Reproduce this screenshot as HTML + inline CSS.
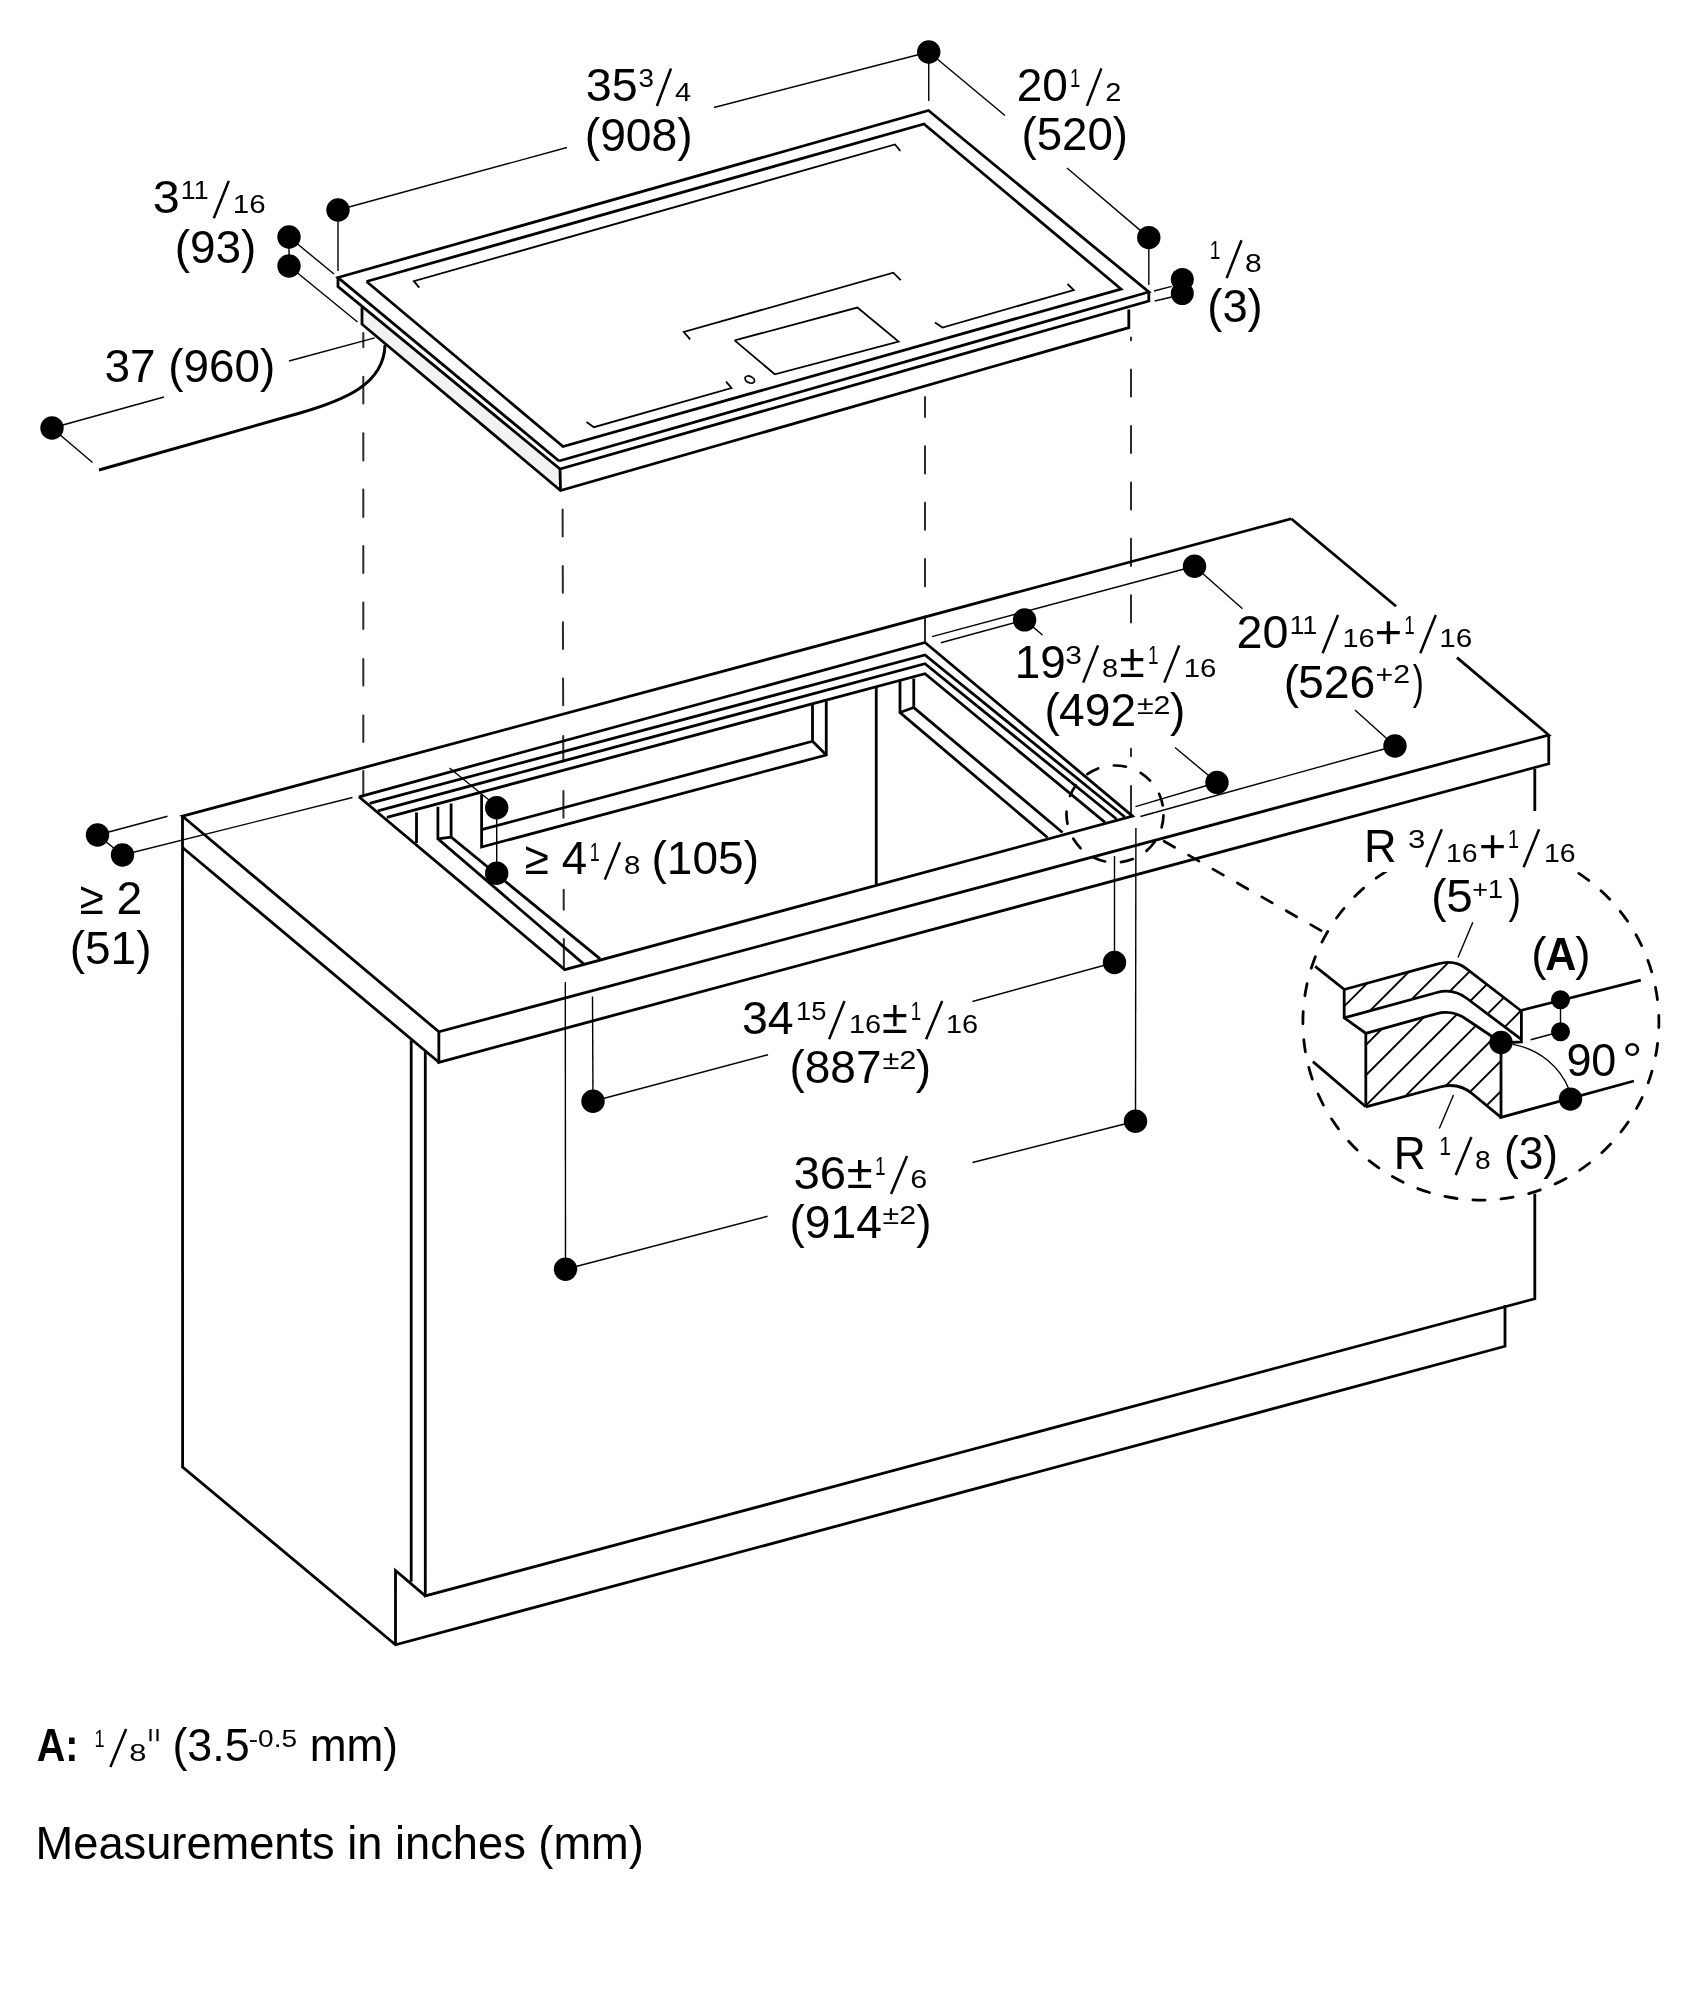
<!DOCTYPE html><html><head><meta charset="utf-8"><style>html,body{margin:0;padding:0;background:#fff;overflow:hidden} svg{display:block} text{font-family:"Liberation Sans", sans-serif;fill:#000}</style></head><body>
<svg width="1701" height="2000" viewBox="0 0 1701 2000">
<rect width="1701" height="2000" fill="#fff"/>
<line x1="363.30" y1="333" x2="363.30" y2="347.2" stroke="#2a2a2a" stroke-width="2.0" stroke-linecap="round"/>
<line x1="363.30" y1="376.8" x2="363.30" y2="403.6" stroke="#2a2a2a" stroke-width="2.0" stroke-linecap="round"/>
<line x1="363.30" y1="433.2" x2="363.30" y2="460.6" stroke="#2a2a2a" stroke-width="2.0" stroke-linecap="round"/>
<line x1="363.30" y1="489.6" x2="363.30" y2="517" stroke="#2a2a2a" stroke-width="2.0" stroke-linecap="round"/>
<line x1="363.30" y1="546" x2="363.30" y2="573" stroke="#2a2a2a" stroke-width="2.0" stroke-linecap="round"/>
<line x1="363.30" y1="602.5" x2="363.30" y2="629" stroke="#2a2a2a" stroke-width="2.0" stroke-linecap="round"/>
<line x1="363.30" y1="659" x2="363.30" y2="685.5" stroke="#2a2a2a" stroke-width="2.0" stroke-linecap="round"/>
<line x1="363.30" y1="715.5" x2="363.30" y2="742" stroke="#2a2a2a" stroke-width="2.0" stroke-linecap="round"/>
<line x1="363.30" y1="771" x2="363.30" y2="796.5" stroke="#2a2a2a" stroke-width="2.0" stroke-linecap="round"/>
<line x1="562.60" y1="509.4" x2="562.68" y2="536.6" stroke="#2a2a2a" stroke-width="2.0" stroke-linecap="round"/>
<line x1="562.76" y1="566" x2="562.84" y2="592.8" stroke="#2a2a2a" stroke-width="2.0" stroke-linecap="round"/>
<line x1="562.92" y1="622.2" x2="563.00" y2="649" stroke="#2a2a2a" stroke-width="2.0" stroke-linecap="round"/>
<line x1="563.08" y1="678.5" x2="563.16" y2="705.3" stroke="#2a2a2a" stroke-width="2.0" stroke-linecap="round"/>
<line x1="563.24" y1="736" x2="563.32" y2="761.5" stroke="#2a2a2a" stroke-width="2.0" stroke-linecap="round"/>
<line x1="563.39" y1="791" x2="563.48" y2="817.8" stroke="#2a2a2a" stroke-width="2.0" stroke-linecap="round"/>
<line x1="563.67" y1="889.8" x2="563.74" y2="909.7" stroke="#2a2a2a" stroke-width="2.0" stroke-linecap="round"/>
<line x1="563.81" y1="939" x2="563.90" y2="968" stroke="#2a2a2a" stroke-width="2.0" stroke-linecap="round"/>
<line x1="925.00" y1="396.9" x2="925.00" y2="416.9" stroke="#2a2a2a" stroke-width="2.0" stroke-linecap="round"/>
<line x1="925.00" y1="446.3" x2="925.00" y2="473.4" stroke="#2a2a2a" stroke-width="2.0" stroke-linecap="round"/>
<line x1="925.00" y1="502.7" x2="925.00" y2="529.8" stroke="#2a2a2a" stroke-width="2.0" stroke-linecap="round"/>
<line x1="925.00" y1="559.1" x2="925.00" y2="586.2" stroke="#2a2a2a" stroke-width="2.0" stroke-linecap="round"/>
<line x1="925.00" y1="616.4" x2="925.00" y2="641" stroke="#2a2a2a" stroke-width="2.0" stroke-linecap="round"/>
<line x1="1131.00" y1="337.5" x2="1131.00" y2="340.2" stroke="#2a2a2a" stroke-width="2.0" stroke-linecap="round"/>
<line x1="1131.00" y1="369.6" x2="1131.00" y2="396.6" stroke="#2a2a2a" stroke-width="2.0" stroke-linecap="round"/>
<line x1="1131.00" y1="426" x2="1131.00" y2="453" stroke="#2a2a2a" stroke-width="2.0" stroke-linecap="round"/>
<line x1="1131.00" y1="482.4" x2="1131.00" y2="509.5" stroke="#2a2a2a" stroke-width="2.0" stroke-linecap="round"/>
<line x1="1131.00" y1="538.8" x2="1131.00" y2="566" stroke="#2a2a2a" stroke-width="2.0" stroke-linecap="round"/>
<line x1="1131.00" y1="595.3" x2="1131.00" y2="622.4" stroke="#2a2a2a" stroke-width="2.0" stroke-linecap="round"/>
<line x1="1131.00" y1="748.8" x2="1131.00" y2="756.3" stroke="#2a2a2a" stroke-width="2.0" stroke-linecap="round"/>
<line x1="1131.00" y1="785.9" x2="1131.00" y2="815.1" stroke="#2a2a2a" stroke-width="2.0" stroke-linecap="round"/>
<path d="M565.30,982.00 L565.50,1269.25" fill="none" stroke="#000" stroke-width="1.4" stroke-linejoin="miter" stroke-miterlimit="10" />
<path d="M338,286.5 L560,469 L560.5,490.5 L362,324.2 L362,307.5 Z" fill="#f2f2f2" stroke="none"/>
<path d="M559.00,461.00 L338.00,277.50 L928.50,110.50 L1148.80,292.00 L559.00,461.00" fill="none" stroke="#000" stroke-width="2.8" stroke-linejoin="miter" stroke-miterlimit="10" />
<path d="M338.00,277.50 L338.00,286.50 L560.00,469.00 L1148.80,301.00 L1148.80,292.00" fill="none" stroke="#000" stroke-width="2.8" stroke-linejoin="miter" stroke-miterlimit="10" />
<path d="M362.00,307.50 L362.00,324.20 L560.50,490.50 L1128.80,327.60 L1128.80,309.40" fill="none" stroke="#000" stroke-width="2.8" stroke-linejoin="miter" stroke-miterlimit="10" />
<path d="M560.00,469.00 L560.50,490.50" fill="none" stroke="#000" stroke-width="2.8" stroke-linejoin="miter" stroke-miterlimit="10" />
<path d="M366.50,281.50 L924.00,124.00 L1121.00,289.00 L563.00,446.50 L366.50,281.50" fill="none" stroke="#000" stroke-width="2.8" stroke-linejoin="miter" stroke-miterlimit="10" />
<path d="M419.30,287.70 L413.80,281.20 L895.00,144.50 L900.40,151.00" fill="none" stroke="#000" stroke-width="1.8" stroke-linejoin="miter" stroke-miterlimit="10" />
<path d="M690.20,339.40 L683.80,332.00 L893.30,272.70 L900.70,280.10" fill="none" stroke="#000" stroke-width="1.8" stroke-linejoin="miter" stroke-miterlimit="10" />
<path d="M586.50,421.90 L593.90,427.20 L731.40,388.00 L726.10,381.70" fill="none" stroke="#000" stroke-width="1.8" stroke-linejoin="miter" stroke-miterlimit="10" />
<path d="M935.00,322.50 L942.50,327.50 L1073.75,290.00 L1067.50,284.00" fill="none" stroke="#000" stroke-width="1.8" stroke-linejoin="miter" stroke-miterlimit="10" />
<path d="M734.60,340.40 L857.40,307.60 L898.60,341.50 L774.80,374.30 L734.60,340.40" fill="none" stroke="#000" stroke-width="1.8" stroke-linejoin="miter" stroke-miterlimit="10" />
<ellipse cx="749.8" cy="379.6" rx="5" ry="3.2" transform="rotate(25 749.8 379.6)" fill="none" stroke="#000" stroke-width="1.8"/>
<path d="M99,470 L300,413 C345,400 384,384 385,345" fill="none" stroke="#000" stroke-width="3.0" />
<circle cx="338.00" cy="210.00" r="11.7" fill="#000"/>
<path d="M338.00,210.00 L338.00,271.00" fill="none" stroke="#000" stroke-width="1.4" stroke-linejoin="miter" stroke-miterlimit="10" />
<path d="M338.00,210.00 L567.00,147.50" fill="none" stroke="#000" stroke-width="1.4" stroke-linejoin="miter" stroke-miterlimit="10" />
<path d="M714.00,107.50 L928.75,52.00" fill="none" stroke="#000" stroke-width="1.4" stroke-linejoin="miter" stroke-miterlimit="10" />
<circle cx="928.75" cy="52.00" r="11.7" fill="#000"/>
<path d="M928.75,52.00 L928.75,101.00" fill="none" stroke="#000" stroke-width="1.4" stroke-linejoin="miter" stroke-miterlimit="10" />
<path d="M928.75,52.00 L1005.00,115.50" fill="none" stroke="#000" stroke-width="1.4" stroke-linejoin="miter" stroke-miterlimit="10" />
<path d="M1067.00,168.00 L1148.80,237.60" fill="none" stroke="#000" stroke-width="1.4" stroke-linejoin="miter" stroke-miterlimit="10" />
<circle cx="1148.80" cy="237.60" r="11.7" fill="#000"/>
<path d="M1148.80,237.60 L1148.80,285.00" fill="none" stroke="#000" stroke-width="1.4" stroke-linejoin="miter" stroke-miterlimit="10" />
<circle cx="289.00" cy="237.00" r="11.7" fill="#000"/>
<circle cx="289.00" cy="266.00" r="11.7" fill="#000"/>
<path d="M289.00,237.00 L289.00,266.00" fill="none" stroke="#000" stroke-width="1.4" stroke-linejoin="miter" stroke-miterlimit="10" />
<path d="M289.00,237.00 L334.00,274.00" fill="none" stroke="#000" stroke-width="1.4" stroke-linejoin="miter" stroke-miterlimit="10" />
<path d="M289.00,266.00 L357.50,322.00" fill="none" stroke="#000" stroke-width="1.4" stroke-linejoin="miter" stroke-miterlimit="10" />
<circle cx="52.00" cy="428.00" r="11.7" fill="#000"/>
<path d="M52.00,428.00 L164.00,397.00" fill="none" stroke="#000" stroke-width="1.4" stroke-linejoin="miter" stroke-miterlimit="10" />
<path d="M289.00,361.00 L374.70,337.90" fill="none" stroke="#000" stroke-width="1.4" stroke-linejoin="miter" stroke-miterlimit="10" />
<path d="M52.00,428.00 L92.50,462.50" fill="none" stroke="#000" stroke-width="1.4" stroke-linejoin="miter" stroke-miterlimit="10" />
<circle cx="1182.30" cy="279.40" r="11.5" fill="#000"/>
<circle cx="1182.30" cy="293.50" r="11.5" fill="#000"/>
<path d="M1154.00,291.00 L1171.70,286.40" fill="none" stroke="#000" stroke-width="1.4" stroke-linejoin="miter" stroke-miterlimit="10" />
<path d="M1154.70,301.00 L1171.70,297.00" fill="none" stroke="#000" stroke-width="1.4" stroke-linejoin="miter" stroke-miterlimit="10" />
<path d="M1291.25,518.75 L182.50,816.25 L438.85,1031.80 L1548.75,735.00 L1457.00,657.60" fill="none" stroke="#000" stroke-width="2.8" stroke-linejoin="miter" stroke-miterlimit="10" />
<path d="M1396.00,606.20 L1291.25,518.75" fill="none" stroke="#000" stroke-width="2.8" stroke-linejoin="miter" stroke-miterlimit="10" />
<path d="M1548.75,735.00 L1548.75,763.75 L438.85,1062.30 L438.85,1031.80" fill="none" stroke="#000" stroke-width="2.8" stroke-linejoin="miter" stroke-miterlimit="10" />
<path d="M182.50,847.50 L438.85,1062.30" fill="none" stroke="#000" stroke-width="2.8" stroke-linejoin="miter" stroke-miterlimit="10" />
<path d="M358.90,796.80 L925.00,642.50 L1132.60,816.10 L564.70,969.60 L358.90,796.80" fill="none" stroke="#000" stroke-width="2.8" stroke-linejoin="miter" stroke-miterlimit="10" />
<path d="M369.60,803.40 L925.00,655.00 L1124.80,817.00" fill="none" stroke="#000" stroke-width="2.8" stroke-linejoin="miter" stroke-miterlimit="10" />
<path d="M377.90,810.80 L925.00,663.75 L1116.50,819.00" fill="none" stroke="#000" stroke-width="2.8" stroke-linejoin="miter" stroke-miterlimit="10" />
<path d="M386.90,817.40 L925.00,673.75 L1105.00,822.30" fill="none" stroke="#000" stroke-width="2.8" stroke-linejoin="miter" stroke-miterlimit="10" />
<path d="M416.50,812.40 L416.50,843.00" fill="none" stroke="#000" stroke-width="2.8" stroke-linejoin="miter" stroke-miterlimit="10" />
<path d="M437.90,806.70 L437.90,838.80 L583.60,963.90" fill="none" stroke="#000" stroke-width="2.8" stroke-linejoin="miter" stroke-miterlimit="10" />
<path d="M451.10,803.40 L451.10,837.10 L600.10,958.90" fill="none" stroke="#000" stroke-width="2.8" stroke-linejoin="miter" stroke-miterlimit="10" />
<path d="M437.90,838.80 L451.10,837.10" fill="none" stroke="#000" stroke-width="2.8" stroke-linejoin="miter" stroke-miterlimit="10" />
<path d="M481.60,794.30 L481.60,847.00 L826.25,755.00 L826.25,700.50" fill="none" stroke="#000" stroke-width="2.8" stroke-linejoin="miter" stroke-miterlimit="10" />
<path d="M481.60,829.70 L812.50,741.25 L812.50,704.00" fill="none" stroke="#000" stroke-width="2.8" stroke-linejoin="miter" stroke-miterlimit="10" />
<path d="M812.50,741.25 L826.25,755.00" fill="none" stroke="#000" stroke-width="2.8" stroke-linejoin="miter" stroke-miterlimit="10" />
<path d="M900.00,681.00 L900.00,712.50 L1047.50,837.50" fill="none" stroke="#000" stroke-width="2.8" stroke-linejoin="miter" stroke-miterlimit="10" />
<path d="M913.75,678.50 L913.75,707.50 L1062.50,832.50" fill="none" stroke="#000" stroke-width="2.8" stroke-linejoin="miter" stroke-miterlimit="10" />
<path d="M900.00,712.50 L913.75,707.50" fill="none" stroke="#000" stroke-width="2.8" stroke-linejoin="miter" stroke-miterlimit="10" />
<path d="M876.25,687.00 L876.25,884.00" fill="none" stroke="#000" stroke-width="2.8" stroke-linejoin="miter" stroke-miterlimit="10" />
<path d="M182.50,816.25 L182.60,1467.00 L395.50,1644.80 L1505.00,1346.25 L1505.00,1305.00" fill="none" stroke="#000" stroke-width="2.8" stroke-linejoin="miter" stroke-miterlimit="10" />
<path d="M395.50,1644.80 L395.50,1570.50 L425.30,1595.90" fill="none" stroke="#000" stroke-width="2.8" stroke-linejoin="miter" stroke-miterlimit="10" />
<path d="M411.20,1040.20 L411.20,1581.80" fill="none" stroke="#000" stroke-width="2.8" stroke-linejoin="miter" stroke-miterlimit="10" />
<path d="M425.30,1051.70 L425.30,1595.90 L1534.80,1298.75 L1534.80,1193.75" fill="none" stroke="#000" stroke-width="2.8" stroke-linejoin="miter" stroke-miterlimit="10" />
<path d="M1534.80,769.00 L1534.80,811.00" fill="none" stroke="#000" stroke-width="2.8" stroke-linejoin="miter" stroke-miterlimit="10" />
<circle cx="97.50" cy="835.00" r="11.7" fill="#000"/>
<circle cx="122.50" cy="855.00" r="11.7" fill="#000"/>
<path d="M97.50,835.00 L122.50,855.00" fill="none" stroke="#000" stroke-width="1.4" stroke-linejoin="miter" stroke-miterlimit="10" />
<path d="M97.50,835.00 L167.50,816.25" fill="none" stroke="#000" stroke-width="1.4" stroke-linejoin="miter" stroke-miterlimit="10" />
<path d="M122.50,855.00 L352.50,797.50" fill="none" stroke="#000" stroke-width="1.4" stroke-linejoin="miter" stroke-miterlimit="10" />
<circle cx="496.70" cy="807.80" r="11.7" fill="#000"/>
<circle cx="496.70" cy="873.30" r="11.7" fill="#000"/>
<path d="M496.70,807.80 L496.70,873.30" fill="none" stroke="#000" stroke-width="1.4" stroke-linejoin="miter" stroke-miterlimit="10" />
<path d="M449.50,768.00 L489.00,800.00" fill="none" stroke="#000" stroke-width="1.4" stroke-linejoin="miter" stroke-miterlimit="10" />
<circle cx="1024.60" cy="619.90" r="11.7" fill="#000"/>
<circle cx="1194.50" cy="566.25" r="11.7" fill="#000"/>
<circle cx="1217.00" cy="782.50" r="11.7" fill="#000"/>
<circle cx="1395.00" cy="746.00" r="11.7" fill="#000"/>
<path d="M932.00,636.60 L1194.50,566.25" fill="none" stroke="#000" stroke-width="1.4" stroke-linejoin="miter" stroke-miterlimit="10" />
<path d="M940.80,642.80 L1024.60,619.90" fill="none" stroke="#000" stroke-width="1.4" stroke-linejoin="miter" stroke-miterlimit="10" />
<path d="M1024.60,619.90 L1042.50,635.00" fill="none" stroke="#000" stroke-width="1.4" stroke-linejoin="miter" stroke-miterlimit="10" />
<path d="M1194.50,566.25 L1242.50,608.75" fill="none" stroke="#000" stroke-width="1.4" stroke-linejoin="miter" stroke-miterlimit="10" />
<path d="M1175.00,747.50 L1217.00,782.50" fill="none" stroke="#000" stroke-width="1.4" stroke-linejoin="miter" stroke-miterlimit="10" />
<path d="M1217.00,782.50 L1135.50,806.70" fill="none" stroke="#000" stroke-width="1.4" stroke-linejoin="miter" stroke-miterlimit="10" />
<path d="M1140.40,816.50 L1395.00,746.00" fill="none" stroke="#000" stroke-width="1.4" stroke-linejoin="miter" stroke-miterlimit="10" />
<path d="M1355.00,710.00 L1395.00,746.00" fill="none" stroke="#000" stroke-width="1.4" stroke-linejoin="miter" stroke-miterlimit="10" />
<circle cx="1114.50" cy="962.50" r="11.7" fill="#000"/>
<path d="M1114.50,856.00 L1114.50,962.50" fill="none" stroke="#000" stroke-width="1.4" stroke-linejoin="miter" stroke-miterlimit="10" />
<path d="M1114.50,962.50 L972.50,1001.50" fill="none" stroke="#000" stroke-width="1.4" stroke-linejoin="miter" stroke-miterlimit="10" />
<circle cx="1135.50" cy="1121.25" r="11.7" fill="#000"/>
<path d="M1135.90,828.00 L1135.50,1121.25" fill="none" stroke="#000" stroke-width="1.4" stroke-linejoin="miter" stroke-miterlimit="10" />
<path d="M1135.50,1121.25 L972.50,1162.50" fill="none" stroke="#000" stroke-width="1.4" stroke-linejoin="miter" stroke-miterlimit="10" />
<circle cx="593.00" cy="1101.25" r="11.7" fill="#000"/>
<path d="M592.50,996.60 L593.00,1101.25" fill="none" stroke="#000" stroke-width="1.4" stroke-linejoin="miter" stroke-miterlimit="10" />
<path d="M593.00,1101.25 L768.00,1054.70" fill="none" stroke="#000" stroke-width="1.4" stroke-linejoin="miter" stroke-miterlimit="10" />
<circle cx="565.50" cy="1269.25" r="11.7" fill="#000"/>
<path d="M565.50,1269.25 L767.50,1216.25" fill="none" stroke="#000" stroke-width="1.4" stroke-linejoin="miter" stroke-miterlimit="10" />
<circle cx="1115" cy="814" r="48.5" fill="none" stroke="#000" stroke-width="2.7" stroke-linecap="round" stroke-dasharray="12.2 16" stroke-dashoffset="-1.4"/>
<line x1="1164.07" y1="841.27" x2="1174.59" y2="847.25" stroke="#000" stroke-width="2.7" stroke-linecap="round"/>
<line x1="1188.49" y1="855.17" x2="1199.01" y2="861.15" stroke="#000" stroke-width="2.7" stroke-linecap="round"/>
<line x1="1212.92" y1="869.07" x2="1223.43" y2="875.05" stroke="#000" stroke-width="2.7" stroke-linecap="round"/>
<line x1="1237.34" y1="882.97" x2="1247.85" y2="888.96" stroke="#000" stroke-width="2.7" stroke-linecap="round"/>
<line x1="1261.76" y1="896.87" x2="1272.27" y2="902.86" stroke="#000" stroke-width="2.7" stroke-linecap="round"/>
<line x1="1286.18" y1="910.77" x2="1296.69" y2="916.76" stroke="#000" stroke-width="2.7" stroke-linecap="round"/>
<line x1="1310.60" y1="924.67" x2="1321.11" y2="930.66" stroke="#000" stroke-width="2.7" stroke-linecap="round"/>
<path d="M1480.9,844.1 A178,178 0 0 1 1480.9,1200.1 A178,178 0 0 1 1480.9,844.1" fill="none" stroke="#000" stroke-width="2.8" stroke-linecap="round" stroke-dasharray="12.2 16" stroke-dashoffset="9.2"/>
<defs><clipPath id="ca"><path d="M1344.2,989.5 L1438,963.9 Q1454.4,959.4 1466,968.4 L1521.4,1010.5 L1521.4,1042 L1520.7,1038.9 L1467,998.5 Q1453.2,988.1 1437,992.5 L1344.2,1017.9 Z"/></clipPath><clipPath id="cb"><path d="M1365.8,1033.3 L1436,1013.8 Q1452.3,1009.3 1466,1019 L1501,1042.5 L1501,1117.3 L1472,1093.5 Q1458,1082 1440,1087 L1365.8,1106.8 Z"/></clipPath></defs>
<g clip-path="url(#ca)"><line x1="1200.5" y1="1150" x2="1410.5" y2="940" stroke="#000" stroke-width="1.9"/><line x1="1230.6999999999998" y1="1150" x2="1440.6999999999998" y2="940" stroke="#000" stroke-width="1.9"/><line x1="1260.9" y1="1150" x2="1470.9" y2="940" stroke="#000" stroke-width="1.9"/><line x1="1291.1" y1="1150" x2="1501.1" y2="940" stroke="#000" stroke-width="1.9"/><line x1="1321.3000000000002" y1="1150" x2="1531.3000000000002" y2="940" stroke="#000" stroke-width="1.9"/><line x1="1351.5" y1="1150" x2="1561.5" y2="940" stroke="#000" stroke-width="1.9"/><line x1="1381.6999999999998" y1="1150" x2="1591.6999999999998" y2="940" stroke="#000" stroke-width="1.9"/><line x1="1411.9" y1="1150" x2="1621.9" y2="940" stroke="#000" stroke-width="1.9"/><line x1="1442.1" y1="1150" x2="1652.1" y2="940" stroke="#000" stroke-width="1.9"/><line x1="1472.3000000000002" y1="1150" x2="1682.3000000000002" y2="940" stroke="#000" stroke-width="1.9"/></g>
<g clip-path="url(#cb)"><line x1="1200.5" y1="1150" x2="1410.5" y2="940" stroke="#000" stroke-width="1.9"/><line x1="1230.6999999999998" y1="1150" x2="1440.6999999999998" y2="940" stroke="#000" stroke-width="1.9"/><line x1="1260.9" y1="1150" x2="1470.9" y2="940" stroke="#000" stroke-width="1.9"/><line x1="1291.1" y1="1150" x2="1501.1" y2="940" stroke="#000" stroke-width="1.9"/><line x1="1321.3000000000002" y1="1150" x2="1531.3000000000002" y2="940" stroke="#000" stroke-width="1.9"/><line x1="1351.5" y1="1150" x2="1561.5" y2="940" stroke="#000" stroke-width="1.9"/><line x1="1381.6999999999998" y1="1150" x2="1591.6999999999998" y2="940" stroke="#000" stroke-width="1.9"/><line x1="1411.9" y1="1150" x2="1621.9" y2="940" stroke="#000" stroke-width="1.9"/><line x1="1442.1" y1="1150" x2="1652.1" y2="940" stroke="#000" stroke-width="1.9"/><line x1="1472.3000000000002" y1="1150" x2="1682.3000000000002" y2="940" stroke="#000" stroke-width="1.9"/></g>
<path d="M1344.2,989.5 L1438,963.9 Q1454.4,959.4 1466,968.4 L1520.7,1010.5" fill="none" stroke="#000" stroke-width="2.8" />
<path d="M1344.2,1017.9 L1437,992.5 Q1453.2,988.1 1467,998.5 L1520.7,1038.9" fill="none" stroke="#000" stroke-width="2.8" />
<path d="M1365.8,1033.3 L1436,1013.8 Q1452.3,1009.3 1466,1019 L1501,1042.5" fill="none" stroke="#000" stroke-width="2.8" />
<path d="M1365.8,1106.8 L1440,1087 Q1458,1082 1472,1093.5 L1501,1117.3" fill="none" stroke="#000" stroke-width="2.8" />
<path d="M1315.20,966.40 L1344.20,989.50 L1344.20,1017.90 L1365.80,1033.30 L1365.80,1106.80" fill="none" stroke="#000" stroke-width="2.8" stroke-linejoin="miter" stroke-miterlimit="10" />
<path d="M1312.90,1061.60 L1365.80,1106.80" fill="none" stroke="#000" stroke-width="2.8" stroke-linejoin="miter" stroke-miterlimit="10" />
<path d="M1521.40,1010.50 L1521.40,1042.00 L1501.00,1043.00" fill="none" stroke="#000" stroke-width="2.8" stroke-linejoin="miter" stroke-miterlimit="10" />
<path d="M1520.70,1010.50 L1640.80,980.20" fill="none" stroke="#000" stroke-width="2.8" stroke-linejoin="miter" stroke-miterlimit="10" />
<path d="M1501.00,1042.00 L1501.00,1117.30 L1633.90,1081.00" fill="none" stroke="#000" stroke-width="2.8" stroke-linejoin="miter" stroke-miterlimit="10" />
<path d="M1512.7,1044.4 A74,74 0 0 1 1569.3,1090" fill="none" stroke="#000" stroke-width="1.4"/>
<circle cx="1501.00" cy="1042.50" r="11.7" fill="#000"/>
<circle cx="1570.50" cy="1099.10" r="11.7" fill="#000"/>
<circle cx="1560.50" cy="999.70" r="9.5" fill="#000"/>
<circle cx="1560.50" cy="1031.80" r="9.5" fill="#000"/>
<path d="M1560.50,999.70 L1560.50,1031.80" fill="none" stroke="#000" stroke-width="1.4" stroke-linejoin="miter" stroke-miterlimit="10" />
<path d="M1530.70,1039.80 L1560.50,1031.80" fill="none" stroke="#000" stroke-width="1.4" stroke-linejoin="miter" stroke-miterlimit="10" />
<path d="M1472.80,922.30 L1458.00,957.60" fill="none" stroke="#000" stroke-width="1.4" stroke-linejoin="miter" stroke-miterlimit="10" />
<path d="M1453.50,1095.00 L1439.30,1128.40" fill="none" stroke="#000" stroke-width="1.4" stroke-linejoin="miter" stroke-miterlimit="10" />
<rect x="1362" y="824" width="220" height="48" fill="#fff"/>
<g style="will-change:transform">
<text x="585.83" y="101.2" font-size="46" textLength="51.83" lengthAdjust="spacingAndGlyphs">35</text>
<text x="638.64" y="87.2" font-size="26" textLength="15.48" lengthAdjust="spacingAndGlyphs">3</text>
<line x1="656.9" y1="106" x2="671" y2="68.5" stroke="#000" stroke-width="2.5"/>
<text x="675.14" y="100.7" font-size="26" textLength="16.11" lengthAdjust="spacingAndGlyphs">4</text>
<text x="584.73" y="150.5" font-size="46" textLength="108.04" lengthAdjust="spacingAndGlyphs">(908)</text>
<text x="1016.68" y="100.6" font-size="46" textLength="51.21" lengthAdjust="spacingAndGlyphs">20</text>
<text x="1069.99" y="86.9" font-size="26" textLength="10.32" lengthAdjust="spacingAndGlyphs">1</text>
<line x1="1086.9" y1="105.9" x2="1101.4" y2="68.4" stroke="#000" stroke-width="2.5"/>
<text x="1105.24" y="100.6" font-size="26" textLength="16.11" lengthAdjust="spacingAndGlyphs">2</text>
<text x="1021.47" y="150" font-size="46" textLength="106.56" lengthAdjust="spacingAndGlyphs">(520)</text>
<text x="152.75" y="213.3" font-size="46" textLength="26.98" lengthAdjust="spacingAndGlyphs">3</text>
<text x="180.89" y="199.1" font-size="26" textLength="27.83" lengthAdjust="spacingAndGlyphs">11</text>
<line x1="213.8" y1="218.3" x2="228.8" y2="180.9" stroke="#000" stroke-width="2.5"/>
<text x="232.85" y="213.1" font-size="26" textLength="32.85" lengthAdjust="spacingAndGlyphs">16</text>
<text x="174.75" y="262.7" font-size="46" textLength="81.59" lengthAdjust="spacingAndGlyphs">(93)</text>
<text x="104.55" y="381.8" font-size="46" textLength="170.79" lengthAdjust="spacingAndGlyphs">37 (960)</text>
<text x="1209.73" y="258.9" font-size="26" textLength="10.71" lengthAdjust="spacingAndGlyphs">1</text>
<line x1="1226.6" y1="278.1" x2="1241.5" y2="240.2" stroke="#000" stroke-width="2.5"/>
<text x="1245.09" y="272.3" font-size="26" textLength="16.71" lengthAdjust="spacingAndGlyphs">8</text>
<text x="1207.29" y="322" font-size="46" textLength="55.42" lengthAdjust="spacingAndGlyphs">(3)</text>
<text x="1236.45" y="647.7" font-size="46" textLength="51.98" lengthAdjust="spacingAndGlyphs">20</text>
<text x="1289.83" y="634" font-size="26" textLength="27.38" lengthAdjust="spacingAndGlyphs">11</text>
<line x1="1322.6" y1="653.2" x2="1338" y2="615" stroke="#000" stroke-width="2.5"/>
<text x="1342.40" y="647.3" font-size="26" textLength="32.17" lengthAdjust="spacingAndGlyphs">16</text>
<text x="1374.71" y="647.5" font-size="46" textLength="27.41" lengthAdjust="spacingAndGlyphs">+</text>
<text x="1404.17" y="634" font-size="26" textLength="10.45" lengthAdjust="spacingAndGlyphs">1</text>
<line x1="1420.3" y1="653.2" x2="1435.8" y2="615" stroke="#000" stroke-width="2.5"/>
<text x="1439.34" y="647.3" font-size="26" textLength="32.96" lengthAdjust="spacingAndGlyphs">16</text>
<text x="1283.75" y="697.7" font-size="46">(</text>
<text x="1297.94" y="697.7" font-size="46" textLength="77.40" lengthAdjust="spacingAndGlyphs">526</text>
<text x="1375.52" y="683.3" font-size="26" textLength="34.61" lengthAdjust="spacingAndGlyphs">+2</text>
<text x="1412.81" y="697.7" font-size="46" textLength="11.05" lengthAdjust="spacingAndGlyphs">)</text>
<text x="1014.81" y="677.5" font-size="46" textLength="50.96" lengthAdjust="spacingAndGlyphs">19</text>
<text x="1065.16" y="663.5" font-size="26" textLength="16.66" lengthAdjust="spacingAndGlyphs">3</text>
<line x1="1083.2" y1="682.6" x2="1098" y2="645.4" stroke="#000" stroke-width="2.5"/>
<text x="1102.14" y="677.2" font-size="26" textLength="16.12" lengthAdjust="spacingAndGlyphs">8</text>
<text x="1119.54" y="677.2" font-size="46" textLength="25.19" lengthAdjust="spacingAndGlyphs">±</text>
<text x="1147.97" y="663.5" font-size="26" textLength="10.45" lengthAdjust="spacingAndGlyphs">1</text>
<line x1="1164.3" y1="682.6" x2="1179.2" y2="645.4" stroke="#000" stroke-width="2.5"/>
<text x="1183.67" y="677.2" font-size="26" textLength="32.62" lengthAdjust="spacingAndGlyphs">16</text>
<text x="1044.45" y="726" font-size="46">(</text>
<text x="1059.14" y="726" font-size="46" textLength="77.08" lengthAdjust="spacingAndGlyphs">492</text>
<text x="1136.94" y="713.7" font-size="26" textLength="33.59" lengthAdjust="spacingAndGlyphs">±2</text>
<text x="1170.03" y="726" font-size="46" textLength="15.32" lengthAdjust="spacingAndGlyphs">)</text>
<text x="524.60" y="874" font-size="46" textLength="24.29" lengthAdjust="spacingAndGlyphs">≥</text>
<text x="561.65" y="874" font-size="46" textLength="25.38" lengthAdjust="spacingAndGlyphs">4</text>
<text x="589.64" y="861.3" font-size="26" textLength="9.93" lengthAdjust="spacingAndGlyphs">1</text>
<line x1="604.8" y1="879.6" x2="620" y2="842.2" stroke="#000" stroke-width="2.5"/>
<text x="624.12" y="874" font-size="26" textLength="16.36" lengthAdjust="spacingAndGlyphs">8</text>
<text x="651.55" y="874" font-size="46" textLength="107.41" lengthAdjust="spacingAndGlyphs">(105)</text>
<text x="79.60" y="913.5" font-size="46" textLength="24.17" lengthAdjust="spacingAndGlyphs">≥</text>
<text x="116.47" y="913.5" font-size="46" textLength="25.76" lengthAdjust="spacingAndGlyphs">2</text>
<text x="69.75" y="963.7" font-size="46" textLength="81.70" lengthAdjust="spacingAndGlyphs">(51)</text>
<text x="742.03" y="1033.7" font-size="46" textLength="51.63" lengthAdjust="spacingAndGlyphs">34</text>
<text x="796.12" y="1020" font-size="26" textLength="30.43" lengthAdjust="spacingAndGlyphs">15</text>
<line x1="829.1" y1="1039.2" x2="844.5" y2="1001" stroke="#000" stroke-width="2.5"/>
<text x="848.90" y="1033.4" font-size="26" textLength="32.17" lengthAdjust="spacingAndGlyphs">16</text>
<text x="881.91" y="1033.4" font-size="46" textLength="25.76" lengthAdjust="spacingAndGlyphs">±</text>
<text x="910.67" y="1020" font-size="26" textLength="10.45" lengthAdjust="spacingAndGlyphs">1</text>
<line x1="926.1" y1="1039.2" x2="942.2" y2="1001" stroke="#000" stroke-width="2.5"/>
<text x="945.90" y="1033.4" font-size="26" textLength="32.17" lengthAdjust="spacingAndGlyphs">16</text>
<text x="789.45" y="1083" font-size="46">(887</text>
<text x="882.42" y="1069.4" font-size="26" textLength="34.13" lengthAdjust="spacingAndGlyphs">±2</text>
<text x="915.83" y="1083" font-size="46" textLength="15.32" lengthAdjust="spacingAndGlyphs">)</text>
<text x="793.50" y="1189" font-size="46" textLength="52.69" lengthAdjust="spacingAndGlyphs">36</text>
<text x="846.70" y="1188.2" font-size="46" textLength="25.87" lengthAdjust="spacingAndGlyphs">±</text>
<text x="874.95" y="1174.7" font-size="26" textLength="10.58" lengthAdjust="spacingAndGlyphs">1</text>
<line x1="891.1" y1="1194.1" x2="907" y2="1155.9" stroke="#000" stroke-width="2.5"/>
<text x="910.15" y="1188.2" font-size="26" textLength="16.99" lengthAdjust="spacingAndGlyphs">6</text>
<text x="789.45" y="1238" font-size="46">(</text>
<text x="804.84" y="1238" font-size="46" textLength="77.02" lengthAdjust="spacingAndGlyphs">914</text>
<text x="882.54" y="1224.1" font-size="26" textLength="33.59" lengthAdjust="spacingAndGlyphs">±2</text>
<text x="916.23" y="1238" font-size="46" textLength="15.32" lengthAdjust="spacingAndGlyphs">)</text>
<text x="1364.00" y="861.6" font-size="46" textLength="32.60" lengthAdjust="spacingAndGlyphs">R</text>
<text x="1408.11" y="848.2" font-size="26" textLength="17.36" lengthAdjust="spacingAndGlyphs">3</text>
<line x1="1426.3" y1="867.3" x2="1441.8" y2="829.2" stroke="#000" stroke-width="2.5"/>
<text x="1445.94" y="861.6" font-size="26" textLength="31.61" lengthAdjust="spacingAndGlyphs">16</text>
<text x="1479.03" y="861.6" font-size="46" textLength="27.17" lengthAdjust="spacingAndGlyphs">+</text>
<text x="1508.00" y="848.2" font-size="26" textLength="10.96" lengthAdjust="spacingAndGlyphs">1</text>
<line x1="1523.6" y1="867.3" x2="1539.1" y2="829.2" stroke="#000" stroke-width="2.5"/>
<text x="1544.04" y="861.6" font-size="26" textLength="31.61" lengthAdjust="spacingAndGlyphs">16</text>
<text x="1431.15" y="911.5" font-size="46">(</text>
<text x="1446.19" y="911.5" font-size="46" textLength="26.51" lengthAdjust="spacingAndGlyphs">5</text>
<text x="1472.18" y="897.6" font-size="26" textLength="30.84" lengthAdjust="spacingAndGlyphs">+1</text>
<text x="1508.58" y="911.5" font-size="46" textLength="12.43" lengthAdjust="spacingAndGlyphs">)</text>
<text x="1531.35" y="970" font-size="46">(</text>
<text x="1545.13" y="970" font-size="46" textLength="31.11" lengthAdjust="spacingAndGlyphs" font-weight="bold">A</text>
<text x="1575.33" y="970" font-size="46" textLength="15.32" lengthAdjust="spacingAndGlyphs">)</text>
<text x="1566.39" y="1075.6" font-size="46" textLength="49.96" lengthAdjust="spacingAndGlyphs">90</text>
<text x="1622.32" y="1075.6" font-size="46" textLength="19.98" lengthAdjust="spacingAndGlyphs">°</text>
<text x="1393.67" y="1169" font-size="46" textLength="31.99" lengthAdjust="spacingAndGlyphs">R</text>
<text x="1439.29" y="1155.1" font-size="26" textLength="11.74" lengthAdjust="spacingAndGlyphs">1</text>
<line x1="1455.7" y1="1174.9" x2="1471.4" y2="1137" stroke="#000" stroke-width="2.5"/>
<text x="1475.08" y="1169" font-size="26" textLength="15.64" lengthAdjust="spacingAndGlyphs">8</text>
<text x="1503.96" y="1169" font-size="46" textLength="54.09" lengthAdjust="spacingAndGlyphs">(3)</text>
<text x="36.82" y="1761" font-size="46" textLength="41.68" lengthAdjust="spacingAndGlyphs" font-weight="bold">A:</text>
<text x="94.52" y="1746.8" font-size="24" textLength="10.06" lengthAdjust="spacingAndGlyphs">1</text>
<line x1="110.4" y1="1766.9" x2="126.1" y2="1728.9" stroke="#000" stroke-width="2.5"/>
<text x="129.16" y="1761" font-size="24" textLength="17.19" lengthAdjust="spacingAndGlyphs">8</text>
<path d="M150.50,1729.00 L150.50,1741.20" fill="none" stroke="#000" stroke-width="2.2" stroke-linejoin="miter" stroke-miterlimit="10" />
<path d="M157.50,1729.00 L157.50,1741.20" fill="none" stroke="#000" stroke-width="2.2" stroke-linejoin="miter" stroke-miterlimit="10" />
<text x="172.42" y="1761" font-size="46" textLength="77.26" lengthAdjust="spacingAndGlyphs">(3.5</text>
<text x="248.75" y="1746.8" font-size="24" textLength="48.32" lengthAdjust="spacingAndGlyphs">-0.5</text>
<text x="309.66" y="1761" font-size="46" textLength="88.38" lengthAdjust="spacingAndGlyphs">mm)</text>
<text x="35.59" y="1859" font-size="46" textLength="608.21" lengthAdjust="spacingAndGlyphs">Measurements in inches (mm)</text>
</g>
</svg></body></html>
